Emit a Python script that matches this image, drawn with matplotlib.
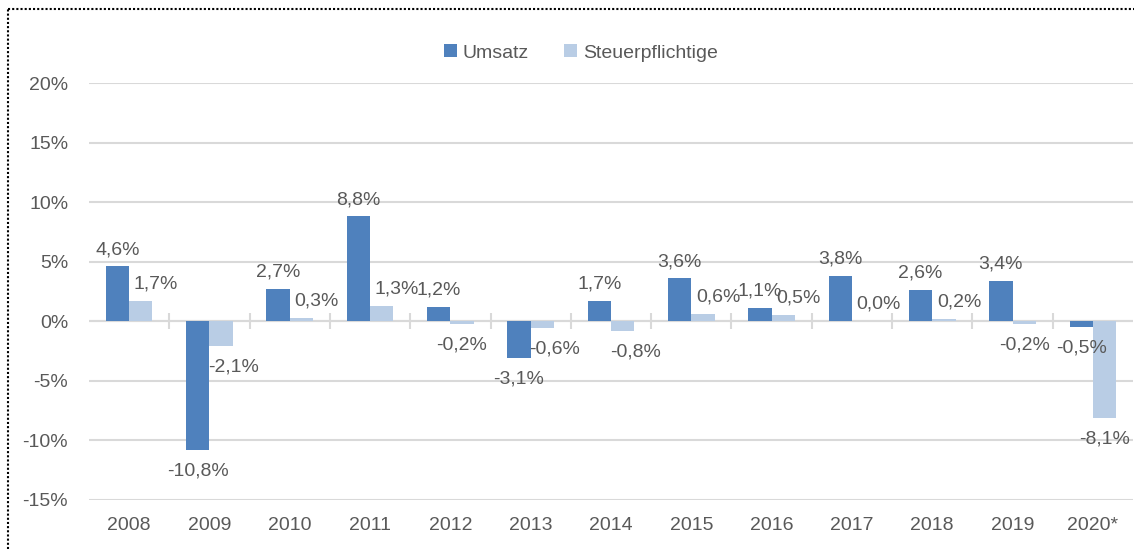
import matplotlib
matplotlib.use('Agg')
import matplotlib.pyplot as plt
import numpy as np

plt.rcParams['font.family'] = ['Liberation Sans Narrow', 'Liberation Sans', 'DejaVu Sans']

years = ['2008', '2009', '2010', '2011', '2012', '2013', '2014', '2015',
         '2016', '2017', '2018', '2019', '2020*']
umsatz = [4.6, -10.8, 2.7, 8.8, 1.2, -3.1, 1.7, 3.6, 1.1, 3.8, 2.6, 3.4, -0.5]
steuer = [1.7, -2.1, 0.3, 1.3, -0.2, -0.6, -0.8, 0.6, 0.5, 0.0, 0.2, -0.2, -8.1]

c_ums = '#4F81BD'
c_st = '#B9CDE5'
grey = '#595959'
grid = '#D9D9D9'
fs = 14

fig = plt.figure(figsize=(11.34, 5.49), dpi=100)
ax = fig.add_axes([89 / 1134, 49 / 549, 1044 / 1134, 417 / 549])

x = np.arange(len(years))
n = len(years)
w = 0.29
b1 = ax.bar(x - w / 2, umsatz, w, color=c_ums, zorder=3)
b2 = ax.bar(x + w / 2, steuer, w, color=c_st, zorder=3)


def lab(v):
    return ('%.1f' % v).replace('.', ',') + '%'


def put(r, v, off):
    cx = r.get_x() + r.get_width() / 2
    if v >= 0:
        ax.annotate(lab(v), (cx, v), xytext=(off, 6), textcoords='offset points',
                    ha='center', va='bottom', fontsize=fs, color=grey)
    else:
        ax.annotate(lab(v), (cx, v), xytext=(off, -9), textcoords='offset points',
                    ha='center', va='top', fontsize=fs, color=grey)


for r, v in zip(b1, umsatz):
    put(r, v, 0)

# light-blue labels sit a bit to the right of their bar (as in Excel)
for i, (r, v) in enumerate(zip(b2, steuer)):
    if v >= 0:
        off = 11
    elif v <= -0.5 and i < n - 1:
        off = 9
    else:
        off = 0
    put(r, v, off)

ax.set_xlim(-0.5, n - 0.5)
ax.set_ylim(-15, 20)
ax.set_yticks(np.arange(-15, 21, 5))
ax.set_yticklabels(['%d%%' % t for t in np.arange(-15, 21, 5)])
ax.set_xticks(x)
ax.set_xticklabels(years)
ax.tick_params(axis='both', length=0, labelsize=fs, labelcolor=grey)
ax.tick_params(axis='x', pad=12)
ax.tick_params(axis='y', pad=15)
ax.yaxis.grid(True, color=grid, linewidth=1.5, zorder=0)
ax.set_axisbelow(True)
for s in ax.spines.values():
    s.set_visible(False)

# zero line with category separators
ax.axhline(0, color=grid, linewidth=1.5, zorder=2)
ax.plot(x[:-1] + 0.5, np.zeros(n - 1), linestyle='none', marker='|',
        markersize=11, markeredgewidth=1.5, color=grid, zorder=2)

fig.legend([b1, b2], ['Umsatz', 'Steuerpflichtige'], loc='center',
           bbox_to_anchor=(581 / 1134, 1 - 53 / 549), ncol=2, frameon=False,
           fontsize=fs, labelcolor=grey, handlelength=0.65, handleheight=0.65,
           handletextpad=0.3, columnspacing=1.8)

# dotted frame (top and left edge)
fig.add_artist(plt.Line2D([8 / 1134, 1], [1 - 9 / 549, 1 - 9 / 549], color='black',
                          linestyle=(0, (1, 1)), linewidth=1.5, transform=fig.transFigure))
fig.add_artist(plt.Line2D([8 / 1134, 8 / 1134], [0, 1 - 9 / 549], color='black',
                          linestyle=(0, (1, 1)), linewidth=1.5, transform=fig.transFigure))

plt.savefig('out.png', dpi=100)
